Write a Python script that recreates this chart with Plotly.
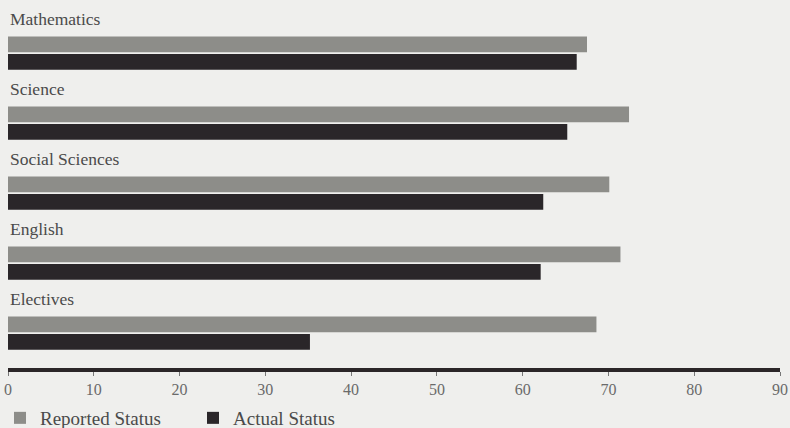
import plotly.graph_objects as go

categories = ["Mathematics", "Science", "Social Sciences", "English", "Electives"]
reported = [67.5, 72.4, 70.1, 71.4, 68.6]
actual = [66.3, 65.2, 62.4, 62.1, 35.2]
tick_vals = [0, 10, 20, 30, 40, 50, 60, 70, 80, 90]

BG = "#efefed"
GRAY = "#8d8d89"
DARK = "#2a2629"
FONT = "Liberation Serif"

fig = go.Figure()
fig.add_trace(go.Bar(y=categories, x=reported, orientation="h", name="Reported Status",
                     marker=dict(color=GRAY, line=dict(width=0))))
fig.add_trace(go.Bar(y=categories, x=actual, orientation="h", name="Actual Status",
                     marker=dict(color=DARK, line=dict(width=0))))

for c in categories:
    fig.add_annotation(x=0, xref="paper", y=c, yref="y", yshift=34.5,
                       text=c, showarrow=False, xanchor="left", yanchor="middle",
                       xshift=0,
                       font=dict(family=FONT, size=17.5, color="#4a4a4a"))

fig.update_layout(
    width=790, height=428,
    paper_bgcolor=BG, plot_bgcolor=BG,
    margin=dict(l=7.5, r=10, t=18, b=60, autoexpand=False),
    barmode="group", bargap=0.5, bargroupgap=0.1,
    showlegend=True,
    legend=dict(orientation="h", xref="container", x=-0.0127, xanchor="left",
                yref="container", y=(428 - 418) / 428, yanchor="middle",
                font=dict(family=FONT, size=19, color="#4a4a4a"),
                bgcolor="rgba(0,0,0,0)", traceorder="normal", entrywidth=148,
                entrywidthmode="pixels"),
    font=dict(family=FONT),
)
fig.update_yaxes(range=[len(categories) - 0.5, -0.5], showticklabels=False, showgrid=False,
                 zeroline=False, showline=False, ticks="", automargin=False)
fig.update_xaxes(range=[0, 90], tickvals=tick_vals, showgrid=False, zeroline=False,
                 showline=True, linecolor="#2b2628", linewidth=4,
                 ticks="outside", ticklen=4, tickcolor="#777", tickwidth=1,
                 automargin=False,
                 tickfont=dict(family=FONT, size=16, color="#6a6a6a"))

fig.write_html("out.html")
